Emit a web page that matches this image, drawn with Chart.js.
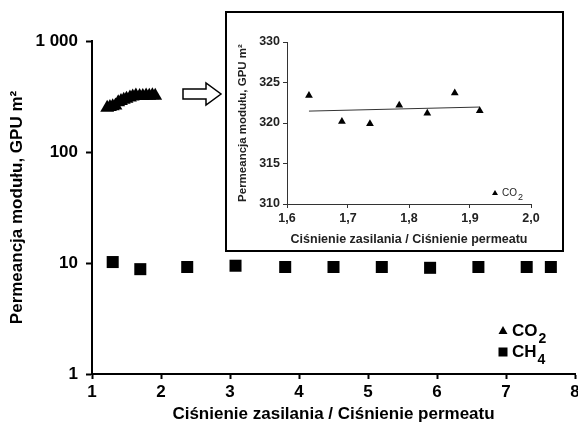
<!DOCTYPE html>
<html>
<head>
<meta charset="utf-8">
<script src="https://cdn.jsdelivr.net/npm/chart.js@4.4.1/dist/chart.umd.min.js"></script>
<style>
  body { margin: 0; background: #fff; }
  #wrap { position: relative; width: 578px; height: 427px; }
  #inset { position: absolute; left: 225px; top: 11px; width: 335px; height: 237px;
           border: 2px solid #000; background: #fff; }
  canvas { display: block; }
</style>
</head>
<body>
<div id="wrap">
  <canvas id="mainChart" width="578" height="427"></canvas>
  <div id="inset"><canvas id="insetChart" width="335" height="237"></canvas></div>
</div>
<script>
// main chart data
var co2X = [1.22, 1.26, 1.30, 1.34, 1.38, 1.42, 1.46, 1.50, 1.55, 1.59, 1.636, 1.69, 1.736, 1.784, 1.83, 1.875, 1.916];
var co2Y = [250, 254, 258, 262, 280, 288, 296, 302, 310, 316, 323.4, 320.2, 319.9, 322.2, 321.2, 323.7, 321.5];
var ch4X = [1.3, 1.7, 2.38, 3.08, 3.8, 4.5, 5.2, 5.9, 6.6, 7.3, 7.65];
var ch4Y = [10.2, 8.8, 9.2, 9.45, 9.2, 9.2, 9.2, 9.05, 9.2, 9.2, 9.2];
var yTicks = [1, 10, 100, 1000];
var yTickLabels = ["1", "10", "100", "1 000"];

// inset data
var insetX = [1.636, 1.69, 1.736, 1.784, 1.83, 1.875, 1.916];
var insetY = [323.4, 320.2, 319.9, 322.2, 321.2, 323.7, 321.5];
var insetXTicks = [1.6, 1.7, 1.8, 1.9, 2.0];
var insetXTickLabels = ["1,6", "1,7", "1,8", "1,9", "2,0"];

var FONT = "'Liberation Sans', Arial, sans-serif";

function toPoints(xs, ys) {
  return xs.map(function (x, i) { return { x: x, y: ys[i] }; });
}

// least squares trend line for inset
function trend(xs, ys) {
  var n = xs.length, mx = 0, my = 0;
  for (var i = 0; i < n; i++) { mx += xs[i]; my += ys[i]; }
  mx /= n; my /= n;
  var sxy = 0, sxx = 0;
  for (var j = 0; j < n; j++) { sxy += (xs[j] - mx) * (ys[j] - my); sxx += (xs[j] - mx) * (xs[j] - mx); }
  var b = sxy / sxx, a = my - b * mx;
  var x0 = Math.min.apply(null, xs), x1 = Math.max.apply(null, xs);
  return [{ x: x0, y: a + b * x0 }, { x: x1, y: a + b * x1 }];
}

function drawSubLabel(ctx, x, y, main, sub, size, weight, color) {
  ctx.fillStyle = color;
  ctx.textBaseline = "alphabetic";
  ctx.textAlign = "left";
  ctx.font = weight + " " + size + "px " + FONT;
  ctx.fillText(main, x, y);
  var w = ctx.measureText(main).width;
  ctx.font = weight + " " + Math.round(size * 0.85) + "px " + FONT;
  ctx.fillText(sub, x + w + 1, y + size * 0.42);
}

var mainDecor = {
  id: "mainDecor",
  afterDraw: function (chart) {
    var ctx = chart.ctx, a = chart.chartArea;
    ctx.save();
    // legend
    var lx = a.right - 72, ly1 = a.bottom - 43, ly2 = a.bottom - 22;
    ctx.fillStyle = "#000";
    ctx.beginPath();
    ctx.moveTo(lx, ly1 - 5);
    ctx.lineTo(lx + 4.5, ly1 + 3);
    ctx.lineTo(lx - 4.5, ly1 + 3);
    ctx.closePath();
    ctx.fill();
    ctx.fillRect(lx - 4.5, ly2 - 4.5, 9, 9);
    drawSubLabel(ctx, lx + 9, ly1 + 5, "CO", "2", 17, "bold", "#000");
    drawSubLabel(ctx, lx + 9, ly2 + 5, "CH", "4", 17, "bold", "#000");
    // hollow arrow pointing to inset
    ctx.beginPath();
    ctx.moveTo(183, 89);
    ctx.lineTo(206, 89);
    ctx.lineTo(206, 83);
    ctx.lineTo(221, 94);
    ctx.lineTo(206, 105);
    ctx.lineTo(206, 99);
    ctx.lineTo(183, 99);
    ctx.closePath();
    ctx.fillStyle = "#fff";
    ctx.fill();
    ctx.lineWidth = 1.5;
    ctx.strokeStyle = "#000";
    ctx.stroke();
    ctx.restore();
  }
};

new Chart(document.getElementById("mainChart").getContext("2d"), {
  type: "scatter",
  data: {
    datasets: [
      {
        label: "CO2",
        data: toPoints(co2X, co2Y),
        pointStyle: "triangle",
        radius: 8,
        backgroundColor: "#000",
        borderColor: "#000",
        borderWidth: 0,
      },
      {
        label: "CH4",
        data: toPoints(ch4X, ch4Y),
        pointStyle: "rect",
        radius: 8.5,
        backgroundColor: "#000",
        borderColor: "#000",
        borderWidth: 0,
      },
    ],
  },
  options: {
    responsive: false,
    animation: false,
    events: [],
    layout: { autoPadding: false, padding: { top: 41, right: 3, left: 0, bottom: 0 } },
    plugins: { legend: { display: false }, tooltip: { enabled: false } },
    scales: {
      x: {
        type: "linear",
        min: 1,
        max: 8,
        ticks: { stepSize: 1, color: "#000", font: { family: FONT, size: 17, weight: "bold" }, padding: 3, maxRotation: 0 },
        grid: { drawOnChartArea: false, tickLength: 5, tickColor: "#000", tickWidth: 2 },
        border: { color: "#000", width: 2 },
        title: {
          display: true,
          text: "Ciśnienie zasilania / Ciśnienie permeatu",
          color: "#000",
          font: { family: FONT, size: 17, weight: "bold" },
          padding: { top: 0, bottom: 2 },
        },
        afterFit: function (s) { s.height = 53; s.paddingRight = 0; s.paddingLeft = 0; },
      },
      y: {
        type: "logarithmic",
        min: 1,
        max: 1000,
        afterBuildTicks: function (s) { s.ticks = yTicks.map(function (v) { return { value: v }; }); },
        ticks: {
          color: "#000",
          font: { family: FONT, size: 17, weight: "bold" },
          padding: 8,
          callback: function (v) { var i = yTicks.indexOf(v); return i >= 0 ? yTickLabels[i] : ""; },
        },
        grid: { drawOnChartArea: false, tickLength: 6, tickColor: "#000", tickWidth: 2 },
        border: { color: "#000", width: 2 },
        title: {
          display: true,
          text: "Permeancja modułu, GPU m²",
          color: "#000",
          font: { family: FONT, size: 17, weight: "bold" },
          padding: { top: 7, bottom: 0 },
        },
        afterFit: function (s) { s.width = 92; },
      },
    },
  },
  plugins: [mainDecor],
});

var insetDecor = {
  id: "insetDecor",
  afterDraw: function (chart) {
    var ctx = chart.ctx, a = chart.chartArea;
    ctx.save();
    var lx = a.right - 36, ly = a.bottom - 11;
    ctx.fillStyle = "#000";
    ctx.beginPath();
    ctx.moveTo(lx, ly - 3);
    ctx.lineTo(lx + 3, ly + 2);
    ctx.lineTo(lx - 3, ly + 2);
    ctx.closePath();
    ctx.fill();
    drawSubLabel(ctx, lx + 7, ly + 3, "CO", "2", 10, "normal", "#222");
    ctx.restore();
  }
};

new Chart(document.getElementById("insetChart").getContext("2d"), {
  type: "scatter",
  data: {
    datasets: [
      {
        label: "CO2",
        data: toPoints(insetX, insetY),
        pointStyle: "triangle",
        radius: 4.5,
        backgroundColor: "#000",
        borderColor: "#000",
        borderWidth: 0,
      },
      {
        label: "trend",
        type: "line",
        data: trend(insetX, insetY),
        borderColor: "#333",
        borderWidth: 1,
        pointRadius: 0,
        fill: false,
      },
    ],
  },
  options: {
    responsive: false,
    animation: false,
    events: [],
    layout: { autoPadding: false, padding: { top: 29, right: 31, left: 0, bottom: 0 } },
    plugins: { legend: { display: false }, tooltip: { enabled: false } },
    scales: {
      x: {
        type: "linear",
        min: 1.6,
        max: 2.0,
        afterBuildTicks: function (s) { s.ticks = insetXTicks.map(function (v) { return { value: v }; }); },
        ticks: {
          color: "#222",
          font: { family: FONT, size: 12.5, weight: "bold" },
          padding: 3,
          maxRotation: 0,
          callback: function (v, i) { return insetXTickLabels[i]; },
        },
        grid: { drawOnChartArea: false, tickLength: 4, tickColor: "#333" },
        border: { color: "#333", width: 1 },
        title: {
          display: true,
          text: "Ciśnienie zasilania / Ciśnienie permeatu",
          color: "#222",
          font: { family: FONT, size: 12.5, weight: "bold" },
          padding: { top: 0, bottom: 3 },
        },
        afterFit: function (s) { s.height = 46; },
      },
      y: {
        min: 310,
        max: 330,
        ticks: { stepSize: 5, color: "#222", font: { family: FONT, size: 12.5, weight: "bold" }, padding: 3 },
        grid: { drawOnChartArea: false, tickLength: 4, tickColor: "#333" },
        border: { color: "#333", width: 1 },
        title: {
          display: true,
          text: "Permeancja modułu, GPU m²",
          color: "#222",
          font: { family: FONT, size: 11.5, weight: "bold" },
          padding: { top: 9, bottom: 0 },
        },
        afterFit: function (s) { s.width = 60; },
      },
    },
  },
  plugins: [insetDecor],
});
</script>
</body>
</html>
